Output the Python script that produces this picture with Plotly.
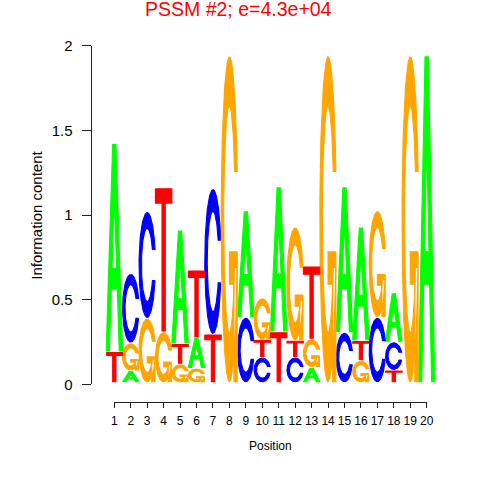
import numpy as np
import plotly.graph_objects as go

# ---------------- data ----------------
positions = list(range(1, 21))
height_A = [1.22, 0.06, 0.00, 0.00, 0.66, 0.17, 0.00, 0.00, 0.62, 0.00,
            0.846, 0.00, 0.08, 0.00, 0.85, 0.66, 0.00, 0.28, 0.00, 1.92]
height_C = [0.00, 0.40, 0.62, 0.00, 0.00, 0.00, 0.85, 0.00, 0.375, 0.14,
            0.00, 0.14, 0.00, 0.00, 0.286, 0.00, 0.375, 0.157, 0.00, 0.00]
height_G = [0.00, 0.154, 0.37, 0.29, 0.10, 0.075, 0.00, 1.92, 0.00, 0.237,
            0.00, 0.66, 0.158, 1.92, 0.00, 0.12, 0.62, 0.00, 1.92, 0.00]
height_T = [0.172, 0.00, 0.00, 0.84, 0.11, 0.39, 0.276, 0.00, 0.00, 0.093,
            0.29, 0.089, 0.42, 0.00, 0.00, 0.108, 0.00, 0.063, 0.00, 0.00]
# stacking order, bottom to top
stack_order = ["TA", "AGC", "GC", "GT", "GTA", "GAT", "TC", "G", "CA", "CTG",
               "TA", "CTG", "AGT", "G", "CA", "GTA", "CG", "TCA", "G", "A"]
y_tick_vals = [0, 0.5, 1, 1.5, 2]
y_tick_text = ["0", "0.5", "1", "1.5", "2"]
title_text = "PSSM #2; e=4.3e+04"
x_title = "Position"
y_title = "Information content"

heights = {"A": height_A, "C": height_C, "G": height_G, "T": height_T}
colors = {"A": "#00FF00", "C": "#0000FF", "G": "#FFA500", "T": "#FF0000"}

# ---------------- glyph outlines (unit box) ----------------
def glyph_C():
    a1 = np.linspace(0.3 + np.pi / 2, np.pi, 100)
    a2 = np.linspace(np.pi, 1.5 * np.pi, 100)
    xl1 = 0.5 + 0.5 * np.sin(a1); yl1 = 0.5 + 0.5 * np.cos(a1)
    xl2 = 0.5 + 0.5 * np.sin(a2); yl2 = 0.5 + 0.5 * np.cos(a2)
    xl = np.r_[xl1, xl2]; yl = np.r_[yl1, yl2]
    x = np.r_[xl, xl[::-1]]; y = np.r_[yl, 1 - yl[::-1]]
    xi1 = 0.5 + 0.35 * np.sin(a1); yi1 = 0.5 + 0.35 * np.cos(a1)
    m = yi1 <= yl1.max()
    xi1 = xi1[m]; yi1 = yi1[m].copy(); yi1[0] = yl1.max()
    xi2 = 0.5 + 0.35 * np.sin(a2); yi2 = 0.5 + 0.35 * np.cos(a2)
    xi = np.r_[xi1, xi2]; yi = np.r_[yi1, yi2]
    x1 = np.r_[xi, xi[::-1]]; y1 = np.r_[yi, 1 - yi[::-1]]
    x = np.r_[x, x1[::-1], x[0]]; y = np.r_[y, y1[::-1], y[0]]
    return [(x, y)], xl1.max()

def glyph_G():
    polys, r1 = glyph_C()
    h1 = 0.4
    xa = np.array([r1, 0.5, 0.5, r1 - 0.2, r1 - 0.2, r1, r1])
    ya = np.array([h1, h1, h1 - 0.1, h1 - 0.1, 0, 0, h1])
    return polys + [(xa, ya)]

def glyph_A():
    xo = [0, 0.4, 0.6, 1, 0.8, 0.68, 0.32, 0.2, 0]
    yo = [0, 1, 1, 0, 0, 0.3, 0.3, 0, 0]
    xi = [0.36, 0.64, 0.5, 0.36]
    yi = [0.4, 0.4, 0.75, 0.4]
    return [(np.array(xo + xi + [0]), np.array(yo + yi + [0]))]

def glyph_T():
    x = np.array([0, 1, 1, 0.6, 0.6, 0.4, 0.4, 0, 0])
    y = np.array([1, 1, 0.9, 0.9, 0, 0, 0.9, 0.9, 1])
    return [(x, y)]

glyphs = {"A": glyph_A(), "C": glyph_C()[0], "G": glyph_G(), "T": glyph_T()}

BASE = 0.015   # baseline offset of the stack
GAP = 0.01     # gap between stacked letters

fig = go.Figure()
segs = {k: ([], []) for k in "ACGT"}
for j, pos in enumerate(positions):
    ypos = BASE
    for letter in stack_order[j]:
        h = heights[letter][j]
        if h <= 0:
            continue
        for gx, gy in glyphs[letter]:
            segs[letter][0].extend(list((pos - 1) + gx) + [None])
            segs[letter][1].extend(list(ypos + h * gy) + [None])
        ypos += h + GAP

for letter in "ACGT":
    fig.add_trace(go.Scatter(
        x=segs[letter][0], y=segs[letter][1], mode="lines", fill="toself",
        fillcolor=colors[letter], line=dict(width=1.1, color=colors[letter]),
        hoverinfo="skip", showlegend=False, xaxis="x", yaxis="y"))

fig.add_trace(go.Scatter(x=[positions[0]], y=[0], mode="markers",
                         marker=dict(opacity=0), hoverinfo="skip",
                         showlegend=False, xaxis="x2", yaxis="y2"))

W = H = 480
def fx(px):
    return px / W
def fy(py):
    return 1 - py / H

y0px, y2px = 384.3, 45.9
ydom = [fy(y0px), fy(y2px)]
font = "Liberation Sans, Arial, sans-serif"

fig.update_layout(
    width=W, height=H, margin=dict(l=0, r=0, t=0, b=0, autoexpand=False),
    paper_bgcolor="white", plot_bgcolor="rgba(0,0,0,0)",
    font=dict(family=font, color="black"),
    xaxis=dict(domain=[fx(106.1), fx(434.9)], range=[0, 20], visible=False,
               fixedrange=True, automargin=False),
    yaxis=dict(domain=ydom, range=[0, 2], visible=False, fixedrange=True,
               automargin=False),
    xaxis2=dict(domain=[fx(114.3), fx(426.7)], range=[1, 20],
                anchor="free", position=fy(401.7), automargin=False,
                tickvals=positions, ticktext=[str(p) for p in positions],
                ticks="outside", ticklen=5, tickcolor="#222", showline=True,
                linecolor="#222", linewidth=1, showgrid=False, zeroline=False,
                tickfont=dict(size=12, family=font), ticklabelstandoff=3),
    yaxis2=dict(domain=ydom, range=[0, 2], anchor="free", automargin=False,
                position=fx(90.5), side="left",
                tickvals=y_tick_vals, ticktext=y_tick_text,
                ticks="outside", ticklen=9, tickcolor="#222", showline=True,
                linecolor="#222", linewidth=1, showgrid=False, zeroline=False,
                tickfont=dict(size=15, family=font), ticklabelstandoff=6),
    annotations=[
        dict(text=title_text, x=fx(238.5), y=fy(9.5), xref="paper",
             yref="paper", showarrow=False, xanchor="center", yanchor="middle",
             font=dict(size=19.5, color="#FF0000", family=font)),
        dict(text=y_title, x=fx(35.7), y=fy(215), xref="paper",
             yref="paper", showarrow=False, textangle=-90,
             xanchor="center", yanchor="middle",
             font=dict(size=15, family=font)),
        dict(text=x_title, x=fx(270.5), y=fy(445.7), xref="paper",
             yref="paper", showarrow=False, xanchor="center",
             yanchor="middle", font=dict(size=12, family=font)),
    ],
)

# remove the default 8px page margin so the figure sits at the window origin
fig.write_html("out.html",
               config={"displayModeBar": False, "staticPlot": True},
               post_script="document.body.style.margin='0';"
                           "document.body.style.overflow='hidden';")
